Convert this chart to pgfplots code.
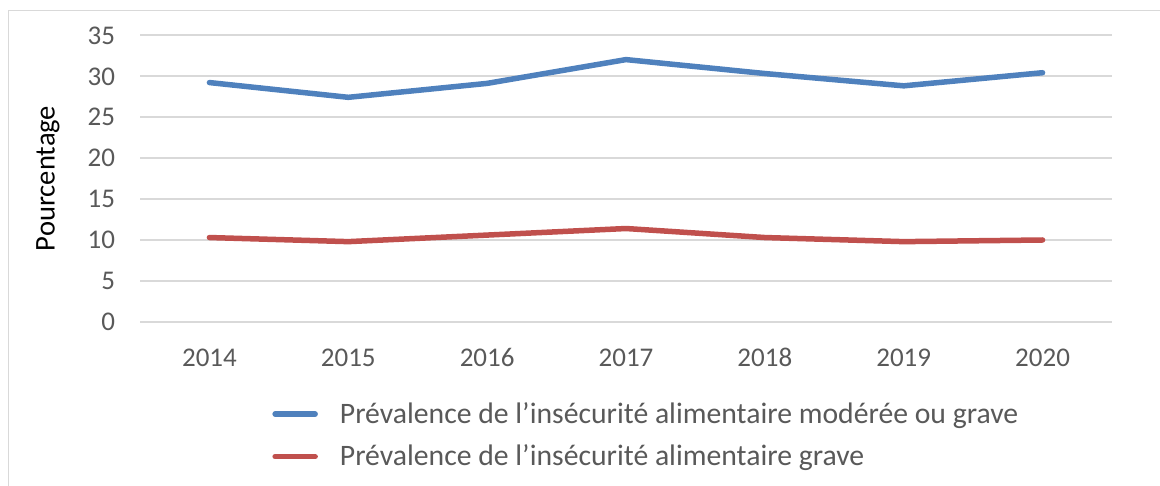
\documentclass[border=0pt]{standalone}
\usepackage{fontspec}
\setmainfont{Carlito}
\usepackage{pgfplots}
\pgfplotsset{compat=1.18}
\definecolor{sblue}{HTML}{4F81BD}
\definecolor{sred}{HTML}{C0504D}
\definecolor{gridc}{HTML}{D9D9D9}
\definecolor{txt}{HTML}{595959}
\begin{document}
\begin{tikzpicture}
\useasboundingbox (0,0) rectangle (580pt,243pt);
\draw[gridc, line width=0.75pt] (4.15pt,0pt) -- (4.15pt,237.7pt) -- (580pt,237.7pt);
\begin{axis}[
  at={(70pt,82pt)}, anchor=south west,
  scale only axis, width=486pt, height=143.5pt,
  xmin=-0.5, xmax=6.5, ymin=0, ymax=35,
  xtick={0,1,2,3,4,5,6},
  xticklabels={2014,2015,2016,2017,2018,2019,2020},
  ytick={0,5,10,15,20,25,30,35},
  axis line style={draw=none},
  major tick style={draw=none},
  ymajorgrids, grid style={gridc, line width=0.75pt},
  ticklabel style={font=\fontsize{13.5}{16}\selectfont, text=txt, text height=9pt, text depth=0pt},
  /pgf/number format/assume math mode=true,
  yticklabel style={xshift=-9pt},
  xticklabel style={anchor=base, yshift=-22.5pt},
  ylabel={Pourcentage},
  ylabel style={at={(axis description cs:-0.0947,0.5)}, anchor=center, font=\fontsize{14.3}{17}\selectfont, text=black},
  legend style={draw=none, fill=none, at={(axis description cs:0.1358,-0.395)}, anchor=west,
    inner sep=0pt, nodes={inner sep=0pt, text=txt, font=\fontsize{14.85}{17}\selectfont},
    column sep=11pt, row sep=9.3pt},
  legend cell align=left,
  legend image code/.code={\draw[#1, line cap=round] (1.25pt,0pt) -- (21.25pt,0pt);},
]
\addplot[sblue, line width=2.75pt, line cap=round] coordinates {
  (0,29.2) (1,27.4) (2,29.1) (3,32.0) (4,30.3) (5,28.8) (6,30.4)};
\addlegendentry{Prévalence de l’insécurité alimentaire modérée ou grave}
\addplot[sred, line width=2.75pt, line cap=round] coordinates {
  (0,10.3) (1,9.8) (2,10.6) (3,11.4) (4,10.3) (5,9.8) (6,10.0)};
\addlegendentry{Prévalence de l’insécurité alimentaire grave}
\end{axis}
\end{tikzpicture}
\end{document}
